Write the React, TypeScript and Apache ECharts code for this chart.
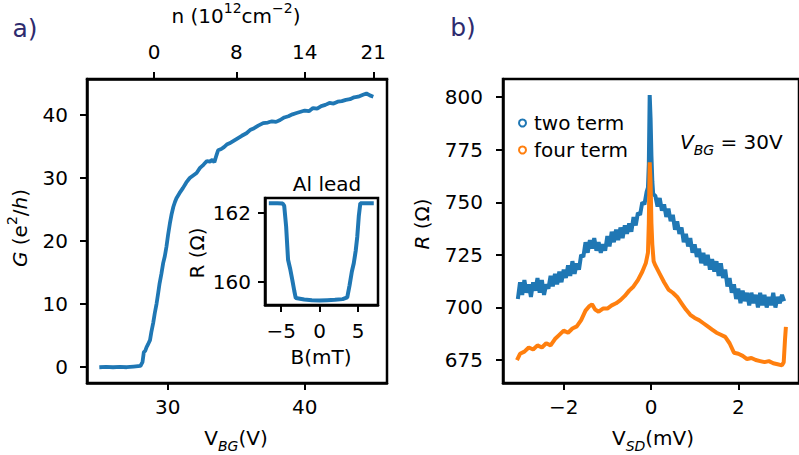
import React, { useEffect, useRef } from 'react';
import * as echarts from 'echarts';

// ---- panel a: conductance vs back-gate voltage ----
const vbg = [25.0, 25.5, 26.0, 26.5, 27.0, 27.5, 28.0, 28.15, 28.25, 28.35, 28.45, 28.55, 28.7, 28.8, 28.93, 29.05, 29.18, 29.3, 29.4, 29.53, 29.66, 29.78, 29.9, 30.02, 30.15, 30.28, 30.4, 30.52, 30.63, 30.85, 31.1, 31.35, 31.6, 31.85, 32.1, 32.35, 32.6, 32.85, 33.07, 33.25, 33.4, 33.55, 33.67, 33.9, 34.1, 34.3, 34.5, 34.8, 35.1, 35.4, 35.74, 36.0, 36.3, 36.6, 36.96, 37.3, 37.6, 37.9, 38.2, 38.5, 38.8, 39.1, 39.4, 39.7, 40.0, 40.3, 40.6, 40.9, 41.2, 41.5, 41.8, 42.1, 42.4, 42.7, 43.0, 43.3, 43.6, 43.9, 44.25, 44.5, 44.75, 45.0];
const gCond = [0.0, 0.05, 0.0, 0.05, 0.0, 0.1, 0.2, 0.8, 2.4, 2.6, 3.2, 3.6, 4.3, 5.6, 7.0, 8.6, 10.1, 11.8, 13.3, 14.8, 16.5, 17.6, 19.1, 21.0, 22.8, 24.3, 25.4, 26.2, 26.8, 27.6, 28.4, 29.3, 30.0, 30.4, 30.8, 31.6, 32.1, 32.7, 32.6, 32.9, 32.5, 33.6, 34.4, 34.6, 34.9, 35.3, 35.5, 35.9, 36.3, 36.7, 37.1, 37.6, 37.9, 38.3, 38.7, 38.8, 39.0, 38.9, 39.2, 39.6, 39.8, 40.1, 40.3, 40.5, 40.7, 40.6, 41.1, 41.0, 41.4, 41.6, 41.9, 41.8, 42.1, 42.2, 42.4, 42.5, 42.8, 42.9, 43.2, 43.4, 43.1, 42.9];
const gTicks = [0, 10, 20, 30, 40];
const vbgTicks = [30, 40];
const nTickPos = [29, 35, 40, 45];
const nTickLabels = ['0', '8', '14', '21'];

// ---- inset: Al lead resistance vs field ----
const bField = [-6.6, -5.5, -4.8, -4.6, -4.35, -4.1, -3.8, -3.55, -3.3, -3.1, -2.0, -1.0, 0, 1.0, 2.0, 3.0, 3.6, 3.9, 4.2, 4.45, 4.7, 4.9, 5.1, 5.3, 6.0, 7.05];
const rLead = [162.28, 162.28, 162.27, 162.2, 161.6, 160.64, 160.35, 160.06, 159.75, 159.53, 159.49, 159.47, 159.46, 159.47, 159.48, 159.5, 159.55, 159.9, 160.3, 160.54, 160.9, 161.3, 161.9, 162.28, 162.28, 162.28];
const bTicks = [-5, 0, 5];
const rLeadTicks = [160, 162];

// ---- panel b: resistance vs source-drain bias ----
const vsdTwo = [-3.05, -3.0, -2.95, -2.9, -2.85, -2.8, -2.75, -2.7, -2.65, -2.6, -2.55, -2.5, -2.45, -2.4, -2.35, -2.3, -2.25, -2.2, -2.15, -2.1, -2.05, -2.0, -1.95, -1.9, -1.85, -1.8, -1.75, -1.7, -1.65, -1.6, -1.55, -1.5, -1.45, -1.4, -1.35, -1.3, -1.25, -1.2, -1.15, -1.1, -1.05, -1.0, -0.95, -0.9, -0.85, -0.8, -0.75, -0.7, -0.65, -0.6, -0.55, -0.5, -0.45, -0.4, -0.35, -0.3, -0.25, -0.2, -0.15, -0.1, -0.07, -0.05, -0.03, -0.01, 0.01, 0.03, 0.05, 0.1, 0.15, 0.2, 0.25, 0.3, 0.35, 0.4, 0.45, 0.5, 0.55, 0.6, 0.65, 0.7, 0.75, 0.8, 0.85, 0.9, 0.95, 1.0, 1.05, 1.1, 1.15, 1.2, 1.25, 1.3, 1.35, 1.4, 1.45, 1.5, 1.55, 1.6, 1.65, 1.7, 1.75, 1.8, 1.85, 1.9, 1.95, 2.0, 2.05, 2.1, 2.15, 2.2, 2.25, 2.3, 2.35, 2.4, 2.45, 2.5, 2.55, 2.6, 2.65, 2.7, 2.75, 2.8, 2.85, 2.9, 2.95, 3.0, 3.05];
const rTwo = [704, 712, 706, 713, 707, 711, 705, 712, 708, 714, 707, 713, 706, 711, 709, 715, 710, 716, 711, 717, 712, 718, 714, 720, 715, 722, 716, 721, 718, 725, 724, 731, 726, 732, 728, 733, 727, 731, 726, 730, 727, 734, 729, 736, 731, 737, 732, 738, 733, 739, 735, 740, 736, 743, 739, 745, 744, 750, 749, 755, 757, 768, 801, 790, 772, 760, 754, 753, 748, 752, 746, 749, 743, 747, 741, 744, 737, 741, 735, 738, 731, 735, 729, 733, 726, 730, 724, 728, 721, 726, 720, 725, 718, 723, 717, 722, 715, 721, 714, 718, 710, 714, 707, 711, 704, 709, 702, 708, 703, 707, 701, 707, 702, 706, 700, 707, 701, 706, 700, 705, 701, 707, 700, 705, 702, 706, 703];
const vsdFour = [-3.07, -3.0, -2.9, -2.8, -2.7, -2.6, -2.5, -2.4, -2.3, -2.2, -2.1, -2.0, -1.9, -1.8, -1.7, -1.6, -1.5, -1.42, -1.35, -1.28, -1.2, -1.1, -1.0, -0.9, -0.8, -0.7, -0.6, -0.5, -0.4, -0.3, -0.2, -0.12, -0.07, -0.05, -0.03, -0.01, 0.01, 0.03, 0.06, 0.1, 0.2, 0.3, 0.4, 0.5, 0.6, 0.7, 0.8, 0.9, 1.0, 1.1, 1.2, 1.3, 1.4, 1.5, 1.6, 1.7, 1.8, 1.9, 2.0, 2.1, 2.2, 2.3, 2.4, 2.5, 2.6, 2.7, 2.8, 2.9, 3.0, 3.04, 3.07, 3.09];
const rFour = [675, 678, 679, 681, 680, 682, 681, 683, 682, 685, 687, 689, 688, 690, 691, 694, 698.5, 700.5, 701.5, 699, 698, 699.5, 699.5, 701, 702, 703.5, 705.5, 708, 710, 713, 717, 721, 726, 740, 769, 760, 740, 730, 722, 720, 716, 712, 708.5, 707, 705, 702, 699, 696.5, 695, 694, 692.5, 691, 689.5, 688, 687, 686, 683, 678.5, 678, 677, 675.5, 676, 675, 674.5, 674, 674.5, 673.5, 673, 672.5, 674, 685, 690.8];
const vsdTicks = [-2, 0, 2];
const rTicks = [675, 700, 725, 750, 775, 800];

const FONT = 'DejaVu Sans';
const BLUE = '#1f77b4';
const ORANGE = '#ff7f0e';
const NAVY = '#2e2b6e';

const zip = (xs: number[], ys: number[]) => xs.map((x, i) => [x, ys[i]]);
const minus = (v: number) => String(v).replace('-', '\u2212');

function axis(gridIndex: number, min: number, max: number, ticks: number[], labelMargin: number, extra: any = {}) {
  return {
    type: 'value',
    gridIndex,
    min,
    max,
    axisLine: { show: true, onZero: false, lineStyle: { color: '#000', width: 2.5 } },
    axisTick: { show: true, length: 7, customValues: ticks, lineStyle: { color: '#000', width: 2 } },
    axisLabel: {
      show: true,
      customValues: ticks,
      color: '#000',
      fontSize: 20,
      fontFamily: FONT,
      margin: labelMargin,
      formatter: (v: number) => minus(v),
    },
    splitLine: { show: false },
    ...extra,
  };
}

const richBase = {
  n: { fontSize: 20, fontFamily: FONT, lineHeight: 30, verticalAlign: 'middle', fill: '#000' },
  i: { fontSize: 20, fontFamily: FONT, fontStyle: 'italic', lineHeight: 30, verticalAlign: 'middle', fill: '#000' },
  sup: { fontSize: 14, fontFamily: FONT, lineHeight: 14, verticalAlign: 'top', fill: '#000' },
  sub: { fontSize: 14, fontFamily: FONT, fontStyle: 'italic', lineHeight: 14, verticalAlign: 'bottom', fill: '#000' },
};

function label(text: string, x: number, y: number, opts: any = {}) {
  return {
    type: 'text',
    x,
    y,
    rotation: opts.rotation || 0,
    style: {
      text,
      rich: richBase,
      fontSize: opts.fontSize || 20,
      fontFamily: FONT,
      lineHeight: 30,
      fill: opts.fill || '#000',
      align: opts.align || 'center',
      verticalAlign: 'middle',
    },
  };
}

export default function App() {
  const ref = useRef<HTMLDivElement>(null);
  useEffect(() => {
    if (!ref.current) return;
    const chart = echarts.init(ref.current, null, { renderer: 'svg' });
    const gridStyle = { show: true, borderColor: '#000', borderWidth: 2.5, backgroundColor: '#fff' };
    chart.setOption({
      animation: false,
      backgroundColor: '#fff',
      grid: [
        { left: 87, top: 79, width: 300, height: 304, ...gridStyle, containLabel: false },
        { left: 265, top: 198, width: 113, height: 107, ...gridStyle, containLabel: false, z: 5 },
        { left: 503, top: 79, width: 302, height: 304, ...gridStyle, containLabel: false },
      ],
      xAxis: [
        axis(0, 24.1, 46.0, vbgTicks, 14),
        {
          ...axis(0, 24.1, 46.0, nTickPos, 17),
          position: 'top',
          axisLabel: {
            show: true,
            customValues: nTickPos,
            color: '#000',
            fontSize: 20,
            fontFamily: FONT,
            margin: 17,
            formatter: (v: number) => nTickLabels[nTickPos.indexOf(v)] ?? '',
          },
        },
        axis(1, -7.1, 7.6, bTicks, 16, { z: 5 }),
        axis(2, -3.39, 3.39, vsdTicks, 14),
      ],
      yAxis: [
        axis(0, -2.5, 45.7, gTicks, 19),
        axis(1, 159.33, 162.43, rLeadTicks, 14, { z: 5 }),
        axis(2, 664.1, 808.6, rTicks, 20),
      ],
      legend: {
        orient: 'vertical',
        left: 513,
        top: 108,
        itemWidth: 7,
        itemHeight: 7,
        itemGap: 7,
        textStyle: { fontSize: 20, fontFamily: FONT, color: '#000', padding: [0, 0, 0, 3] },
        data: [
          { name: 'two term', icon: 'circle', itemStyle: { color: '#fff', borderColor: BLUE, borderWidth: 2 } },
          { name: 'four term', icon: 'circle', itemStyle: { color: '#fff', borderColor: ORANGE, borderWidth: 2 } },
        ],
      },
      series: [
        {
          type: 'line', xAxisIndex: 0, yAxisIndex: 0, data: zip(vbg, gCond),
          showSymbol: false, lineStyle: { color: BLUE, width: 3.8 }, itemStyle: { color: BLUE },
        },
        {
          type: 'line', xAxisIndex: 2, yAxisIndex: 1, data: zip(bField, rLead), z: 6,
          showSymbol: false, lineStyle: { color: BLUE, width: 4 }, itemStyle: { color: BLUE },
        },
        {
          name: 'two term', type: 'line', xAxisIndex: 3, yAxisIndex: 2, data: zip(vsdTwo, rTwo),
          showSymbol: false, lineStyle: { color: BLUE, width: 4 }, itemStyle: { color: BLUE },
        },
        {
          name: 'four term', type: 'line', xAxisIndex: 3, yAxisIndex: 2, data: zip(vsdFour, rFour),
          showSymbol: false, lineStyle: { color: ORANGE, width: 4 }, itemStyle: { color: ORANGE },
        },
      ],
      graphic: [
        label('a)', 25, 28, { fontSize: 25, fill: NAVY }),
        label('b)', 463, 27, { fontSize: 25, fill: NAVY }),
        label('n (10{sup|12}cm{sup|\u22122})', 236, 16),
        label('V{sub|BG}(V)', 236, 438),
        label('V{sub|SD}(mV)', 653, 438),
        label('{i|G} (e{sup|2}/{i|h})', 20, 228, { rotation: Math.PI / 2 }),
        label('{i|R} (\u03a9)', 422, 224, { rotation: Math.PI / 2 }),
        label('Al lead', 327, 184),
        label('R (\u03a9)', 197, 253, { rotation: Math.PI / 2 }),
        label('B(mT)', 321, 357),
        label('{i|V}{sub|BG} = 30V', 680, 142, { align: 'left' }),
      ],
    });
    return () => chart.dispose();
  }, []);
  return <div ref={ref} style={{ position: 'fixed', left: 0, top: 0, width: 799, height: 455 }} />;
}
